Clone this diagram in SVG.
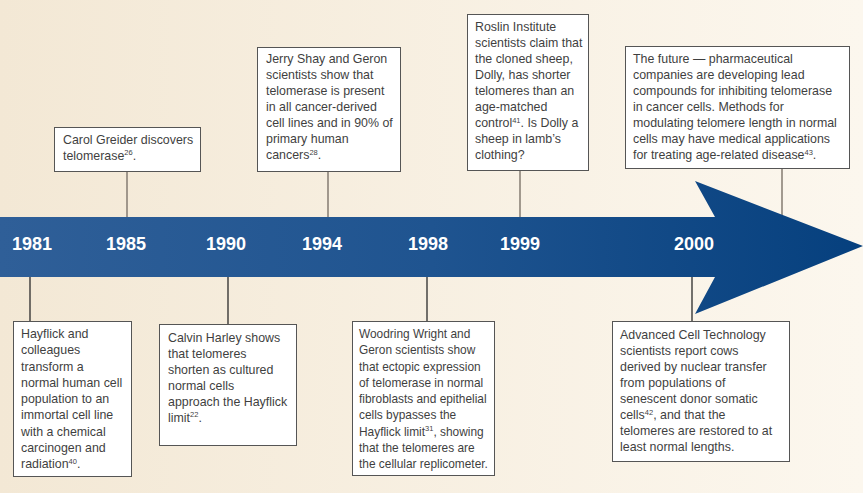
<svg xmlns="http://www.w3.org/2000/svg" width="863" height="493" viewBox="0 0 863 493">
<defs>
<linearGradient id="bg" x1="0" y1="0" x2="1" y2="0">
<stop offset="0" stop-color="#f3e8d5"/>
<stop offset="1" stop-color="#fcf7ee"/>
</linearGradient>
<linearGradient id="band" gradientUnits="userSpaceOnUse" x1="0" y1="0" x2="863" y2="0">
<stop offset="0" stop-color="#2f5f98"/>
<stop offset="0.5" stop-color="#1f5490"/>
<stop offset="1" stop-color="#06407e"/>
</linearGradient>
<style>
.box{fill:#ffffff;stroke:#555555;stroke-width:1}
.t{font-family:"Liberation Sans",Arial,sans-serif;font-size:12.4px;fill:#3f3f3f}
.s{font-size:11.9px}
.yr{font-family:"Liberation Sans",Arial,sans-serif;font-size:18px;font-weight:bold;fill:#ffffff}
.up{stroke:#857b72;stroke-width:1.5}
.dn{stroke:#2a2a2a;stroke-width:1.3}
.sup{font-size:7.5px}
</style>
</defs>
<rect x="0" y="0" width="863" height="493" fill="url(#bg)"/>
<g id="connectors">
<line class="up" x1="127" y1="172" x2="127" y2="217"/>
<line class="up" x1="328" y1="172" x2="328" y2="217"/>
<line class="up" x1="520" y1="171" x2="520" y2="217"/>
<line class="up" x1="782" y1="169" x2="782" y2="220"/>
<line class="dn" x1="30" y1="277" x2="30" y2="321"/>
<line class="dn" x1="228" y1="277" x2="228" y2="324"/>
<line class="dn" x1="427" y1="277" x2="427" y2="321"/>
<line class="dn" x1="692" y1="277" x2="692" y2="321"/>
</g>
<g id="timeline">
<polygon points="0,217 715,217 695,181 863,246 695,314 715,277 0,277" fill="url(#band)"/>
<text class="yr" x="12" y="250">1981</text>
<text class="yr" x="106" y="250">1985</text>
<text class="yr" x="206" y="250">1990</text>
<text class="yr" x="302" y="250">1994</text>
<text class="yr" x="408" y="250">1998</text>
<text class="yr" x="500" y="250">1999</text>
<text class="yr" x="674" y="250">2000</text>
</g>
<g id="n1981">
<rect class="box" x="13.5" y="321.5" width="118" height="155"/>
<text class="t">
<tspan x="21" y="338">Hayflick and</tspan>
<tspan x="21" y="354.25">colleagues</tspan>
<tspan x="21" y="370.5">transform a</tspan>
<tspan x="21" y="386.75">normal human cell</tspan>
<tspan x="21" y="403">population to an</tspan>
<tspan x="21" y="419.25">immortal cell line</tspan>
<tspan x="21" y="435.5">with a chemical</tspan>
<tspan x="21" y="451.75">carcinogen and</tspan>
<tspan x="21" y="468">radiation<tspan class="sup" dy="-4.5">40</tspan><tspan dy="4.5">.</tspan></tspan>
</text>
</g>
<g id="n1985">
<rect class="box" x="54.5" y="127.5" width="146" height="44"/>
<text class="t">
<tspan x="63" y="143.5">Carol Greider discovers</tspan>
<tspan x="63" y="159.5">telomerase<tspan class="sup" dy="-4.5">26</tspan><tspan dy="4.5">.</tspan></tspan>
</text>
</g>
<g id="n1990">
<rect class="box" x="159.5" y="324.5" width="137" height="121"/>
<text class="t">
<tspan x="168" y="341.5">Calvin Harley shows</tspan>
<tspan x="168" y="357.5">that telomeres</tspan>
<tspan x="168" y="373.5">shorten as cultured</tspan>
<tspan x="168" y="389.5">normal cells</tspan>
<tspan x="168" y="405.5">approach the Hayflick</tspan>
<tspan x="168" y="421.5">limit<tspan class="sup" dy="-4.5">22</tspan><tspan dy="4.5">.</tspan></tspan>
</text>
</g>
<g id="n1994">
<rect class="box" x="257.5" y="47.5" width="143" height="124"/>
<text class="t">
<tspan x="266" y="63">Jerry Shay and Geron</tspan>
<tspan x="266" y="79">scientists show that</tspan>
<tspan x="266" y="95">telomerase is present</tspan>
<tspan x="266" y="111">in all cancer-derived</tspan>
<tspan x="266" y="127">cell lines and in 90% of</tspan>
<tspan x="266" y="143">primary human</tspan>
<tspan x="266" y="159">cancers<tspan class="sup" dy="-4.5">28</tspan><tspan dy="4.5">.</tspan></tspan>
</text>
</g>
<g id="n1998">
<rect class="box" x="352.5" y="321.5" width="142" height="154"/>
<text class="t s">
<tspan x="359" y="338">Woodring Wright and</tspan>
<tspan x="359" y="354.25">Geron scientists show</tspan>
<tspan x="359" y="370.5">that ectopic expression</tspan>
<tspan x="359" y="386.75">of telomerase in normal</tspan>
<tspan x="359" y="403">fibroblasts and epithelial</tspan>
<tspan x="359" y="419.25">cells bypasses the</tspan>
<tspan x="359" y="435.5">Hayflick limit<tspan class="sup" dy="-4.5">31</tspan><tspan dy="4.5">, showing</tspan></tspan>
<tspan x="359" y="451.75">that the telomeres are</tspan>
<tspan x="359" y="468">the cellular replicometer.</tspan>
</text>
</g>
<g id="n1999">
<rect class="box" x="467.5" y="14.5" width="121" height="156"/>
<text class="t">
<tspan x="475" y="31">Roslin Institute</tspan>
<tspan x="475" y="47">scientists claim that</tspan>
<tspan x="475" y="63">the cloned sheep,</tspan>
<tspan x="475" y="79">Dolly, has shorter</tspan>
<tspan x="475" y="95">telomeres than an</tspan>
<tspan x="475" y="111">age-matched</tspan>
<tspan x="475" y="127">control<tspan class="sup" dy="-4.5">41</tspan><tspan dy="4.5">. Is Dolly a</tspan></tspan>
<tspan x="475" y="143">sheep in lamb’s</tspan>
<tspan x="475" y="159">clothing?</tspan>
</text>
</g>
<g id="n2000">
<rect class="box" x="612.5" y="321.5" width="177" height="140"/>
<text class="t">
<tspan x="620" y="339">Advanced Cell Technology</tspan>
<tspan x="620" y="355">scientists report cows</tspan>
<tspan x="620" y="371">derived by nuclear transfer</tspan>
<tspan x="620" y="387">from populations of</tspan>
<tspan x="620" y="403">senescent donor somatic</tspan>
<tspan x="620" y="419">cells<tspan class="sup" dy="-4.5">42</tspan><tspan dy="4.5">, and that the</tspan></tspan>
<tspan x="620" y="435">telomeres are restored to at</tspan>
<tspan x="620" y="451">least normal lengths.</tspan>
</text>
</g>
<g id="future">
<rect class="box" x="625.5" y="46.5" width="224" height="122"/>
<text class="t">
<tspan x="633" y="63">The future — pharmaceutical</tspan>
<tspan x="633" y="79">companies are developing lead</tspan>
<tspan x="633" y="95">compounds for inhibiting telomerase</tspan>
<tspan x="633" y="111">in cancer cells. Methods for</tspan>
<tspan x="633" y="127">modulating telomere length in normal</tspan>
<tspan x="633" y="143">cells may have medical applications</tspan>
<tspan x="633" y="159">for treating age-related disease<tspan class="sup" dy="-4.5">43</tspan><tspan dy="4.5">.</tspan></tspan>
</text>
</g>
</svg>
